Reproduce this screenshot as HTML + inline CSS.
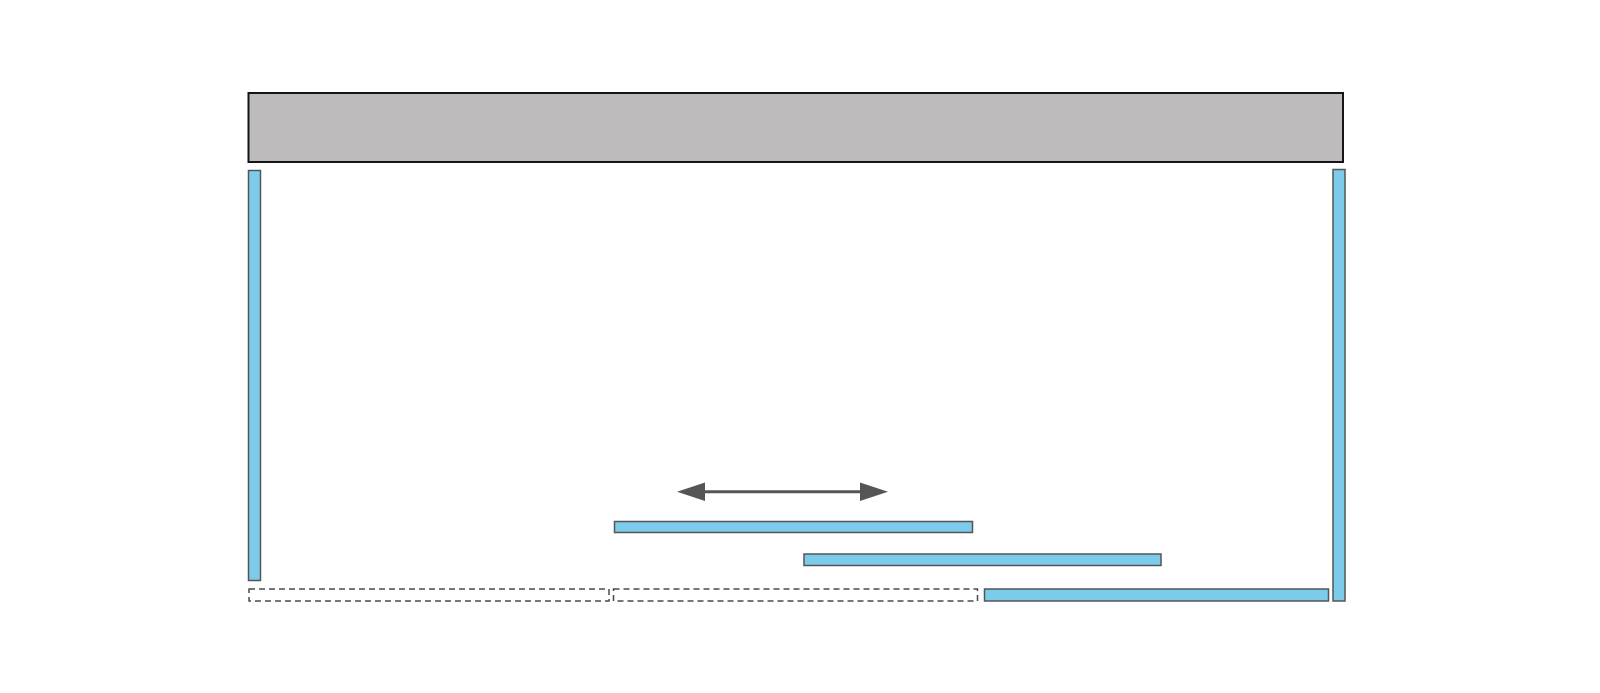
<!DOCTYPE html>
<html>
<head>
<meta charset="utf-8">
<style>
html,body{margin:0;padding:0;background:#fff;}
svg{display:block;}
</style>
</head>
<body>
<svg width="1600" height="693" viewBox="0 0 1600 693" xmlns="http://www.w3.org/2000/svg">
  <rect x="0" y="0" width="1600" height="693" fill="#ffffff"/>
  <!-- top gray box -->
  <rect x="248.5" y="93" width="1094.5" height="69" fill="#bdbbbc" stroke="#151515" stroke-width="2"/>
  <!-- left vertical bar -->
  <rect x="248.5" y="170.5" width="12" height="410" fill="#7ccbea" stroke="#555" stroke-width="1.5"/>
  <!-- right vertical bar -->
  <rect x="1333" y="169.5" width="12" height="431.5" fill="#7ccbea" stroke="#555" stroke-width="1.5"/>
  <!-- horizontal bars -->
  <rect x="614.5" y="521.5" width="358" height="11" fill="#7ccbea" stroke="#555" stroke-width="1.5"/>
  <rect x="804" y="554" width="357" height="11.5" fill="#7ccbea" stroke="#555" stroke-width="1.5"/>
  <rect x="984.5" y="589" width="344" height="12" fill="#7ccbea" stroke="#555" stroke-width="1.5"/>
  <!-- dashed boxes -->
  <rect x="249" y="589" width="360" height="12" fill="none" stroke="#4a4a4a" stroke-width="1.5" stroke-dasharray="6,4"/>
  <rect x="613.5" y="589" width="364" height="12" fill="none" stroke="#4a4a4a" stroke-width="1.5" stroke-dasharray="6,4"/>
  <!-- double arrow -->
  <line x1="700" y1="491.8" x2="864" y2="491.8" stroke="#555" stroke-width="3"/>
  <polygon points="677,491.8 705,482.5 705,501" fill="#555"/>
  <polygon points="888,491.8 860,482.5 860,501" fill="#555"/>
</svg>
</body>
</html>
